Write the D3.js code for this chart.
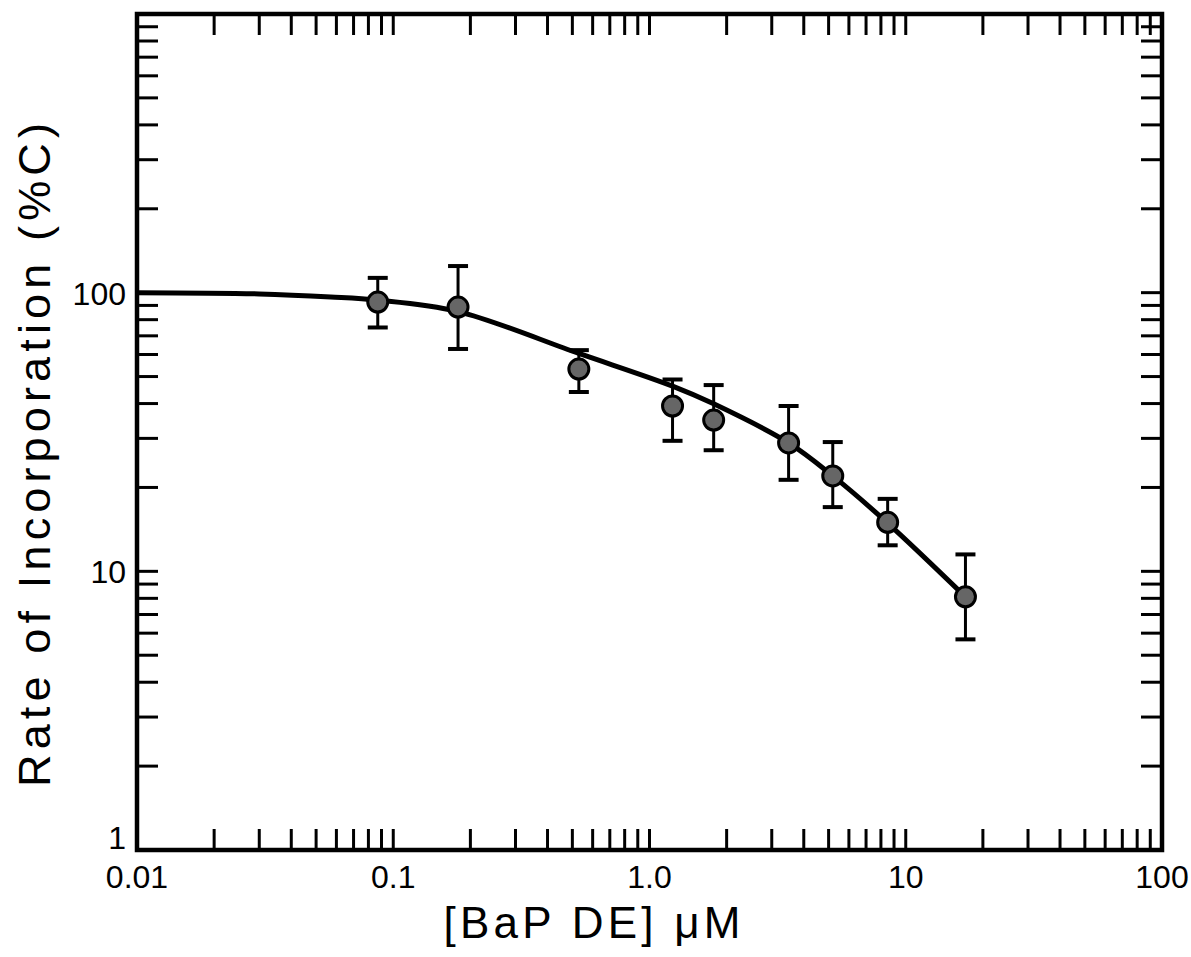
<html>
    <script src="https://cdnjs.cloudflare.com/ajax/libs/d3/7.8.5/d3.min.js"></script>

    <body style="margin:0; background:white;">
            <div id="graph"></div>
    </body>

    <script>
        // measured points (concentration uM, rate %C, error bar low/high)
        var conc = [0.087, 0.179, 0.53, 1.23, 1.78, 3.49, 5.19, 8.5, 17.1]
        var rate = [92.5, 88.8, 53.2, 39.2, 34.9, 28.9, 22.0, 15.0, 8.1]
        var errLow = [75, 62.8, 44, 29.4, 27.2, 21.3, 17.0, 12.4, 5.7]
        var errHigh = [113, 124.6, 62.2, 48.8, 46.6, 39.2, 29.1, 18.2, 11.5]

        // fitted curve
        var curveX = [0.01, 0.03, 0.057, 0.087, 0.179, 0.53, 1.23, 1.78, 3.49, 5.19, 8.5, 17.1]
        var curveY = [100, 99, 96.5, 94, 85.5, 60.5, 46.2, 39.9, 28.9, 22.0, 14.9, 8.1]

        var xTicks = [0.01, 0.1, 1, 10, 100]
        var xTickLabels = ["0.01", "0.1", "1.0", "10", "100"]
        var yTicks = [1, 10, 100]
        var yTickLabels = ["1", "10", "100"]

        var WIDTH = 1191, HEIGHT = 957
        var L = 137, R = 1162, T = 14, B = 850

        var svg = d3.select("#graph").append("svg")
            .attr("width", WIDTH)
            .attr("height", HEIGHT)
            .style("font-family", "'Liberation Sans', Arial, sans-serif")

        var X = d3.scaleLog().domain([0.01, 100]).range([L, R])
        var Y = d3.scaleLog().domain([1, 1000]).range([B, T])

        // minor ticks 1..9 per decade, both axes, all four sides
        function decadeTicks(lo, hi) {
            var out = []
            for (var p = lo; p < hi; p++) {
                for (var k = 1; k <= 9; k++) out.push(k * Math.pow(10, p))
            }
            return out
        }
        var xt = decadeTicks(-2, 2).filter(function(v) { return v > 0.01 })
        var yt = decadeTicks(0, 3).filter(function(v) { return v > 1 })
        var TL = 21

        var ticks = svg.append("g").attr("stroke", "black").attr("stroke-width", 3)
        ticks.selectAll(".xb").data(xt).enter().append("line")
            .attr("x1", function(d) { return X(d) }).attr("x2", function(d) { return X(d) })
            .attr("y1", B).attr("y2", B - TL)
        ticks.selectAll(".xt").data(xt).enter().append("line")
            .attr("x1", function(d) { return X(d) }).attr("x2", function(d) { return X(d) })
            .attr("y1", T).attr("y2", T + TL)
        ticks.selectAll(".yl").data(yt).enter().append("line")
            .attr("y1", function(d) { return Y(d) }).attr("y2", function(d) { return Y(d) })
            .attr("x1", L).attr("x2", L + TL)
        ticks.selectAll(".yr").data(yt).enter().append("line")
            .attr("y1", function(d) { return Y(d) }).attr("y2", function(d) { return Y(d) })
            .attr("x1", R).attr("x2", R - TL)

        // frame
        svg.append("rect")
            .attr("x", L).attr("y", T)
            .attr("width", R - L).attr("height", B - T)
            .attr("fill", "none").attr("stroke", "black").attr("stroke-width", 4.5)

        // tick labels
        svg.selectAll(".xl").data(xTicks).enter().append("text")
            .attr("x", function(d) { return X(d) })
            .attr("y", 888)
            .attr("text-anchor", "middle")
            .style("font-size", "32px")
            .text(function(d, i) { return xTickLabels[i] })

        svg.selectAll(".yl").data(yTicks).enter().append("text")
            .attr("x", 126)
            .attr("y", function(d, i) { return Y(d) + (i == 0 ? -1 : 12) })
            .attr("text-anchor", "end")
            .style("font-size", "32px")
            .text(function(d, i) { return yTickLabels[i] })

        // axis titles
        svg.append("text")
            .attr("x", 592).attr("y", 938)
            .attr("text-anchor", "middle")
            .attr("textLength", 297).attr("lengthAdjust", "spacing")
            .style("font-size", "44px")
            .text("[BaP DE] \u03bcM")

        svg.append("text")
            .attr("transform", "translate(50,455) rotate(-90)")
            .attr("text-anchor", "middle")
            .attr("textLength", 664).attr("lengthAdjust", "spacing")
            .style("font-size", "45px")
            .text("Rate of Incorporation (%C)")

        // fitted curve
        var line = d3.line()
            .x(function(d) { return X(d[0]) })
            .y(function(d) { return Y(d[1]) })
            .curve(d3.curveCatmullRom.alpha(0.5))
        svg.append("path")
            .datum(d3.zip(curveX, curveY))
            .attr("d", line)
            .attr("fill", "none").attr("stroke", "black").attr("stroke-width", 5)

        // error bars
        var pts = d3.range(conc.length)
        var eb = svg.append("g").attr("stroke", "black")
        eb.selectAll(".v").data(pts).enter().append("line")
            .attr("x1", function(i) { return X(conc[i]) }).attr("x2", function(i) { return X(conc[i]) })
            .attr("y1", function(i) { return Y(errLow[i]) }).attr("y2", function(i) { return Y(errHigh[i]) })
            .attr("stroke-width", 3)
        eb.selectAll(".lo").data(pts).enter().append("line")
            .attr("x1", function(i) { return X(conc[i]) - 10 }).attr("x2", function(i) { return X(conc[i]) + 10 })
            .attr("y1", function(i) { return Y(errLow[i]) }).attr("y2", function(i) { return Y(errLow[i]) })
            .attr("stroke-width", 4)
        eb.selectAll(".hi").data(pts).enter().append("line")
            .attr("x1", function(i) { return X(conc[i]) - 10 }).attr("x2", function(i) { return X(conc[i]) + 10 })
            .attr("y1", function(i) { return Y(errHigh[i]) }).attr("y2", function(i) { return Y(errHigh[i]) })
            .attr("stroke-width", 4)

        // points
        svg.selectAll(".pt").data(pts).enter().append("circle")
            .attr("cx", function(i) { return X(conc[i]) })
            .attr("cy", function(i) { return Y(rate[i]) })
            .attr("r", 10)
            .attr("fill", "#666")
            .attr("stroke", "black")
            .attr("stroke-width", 3)
    </script>
</html>
